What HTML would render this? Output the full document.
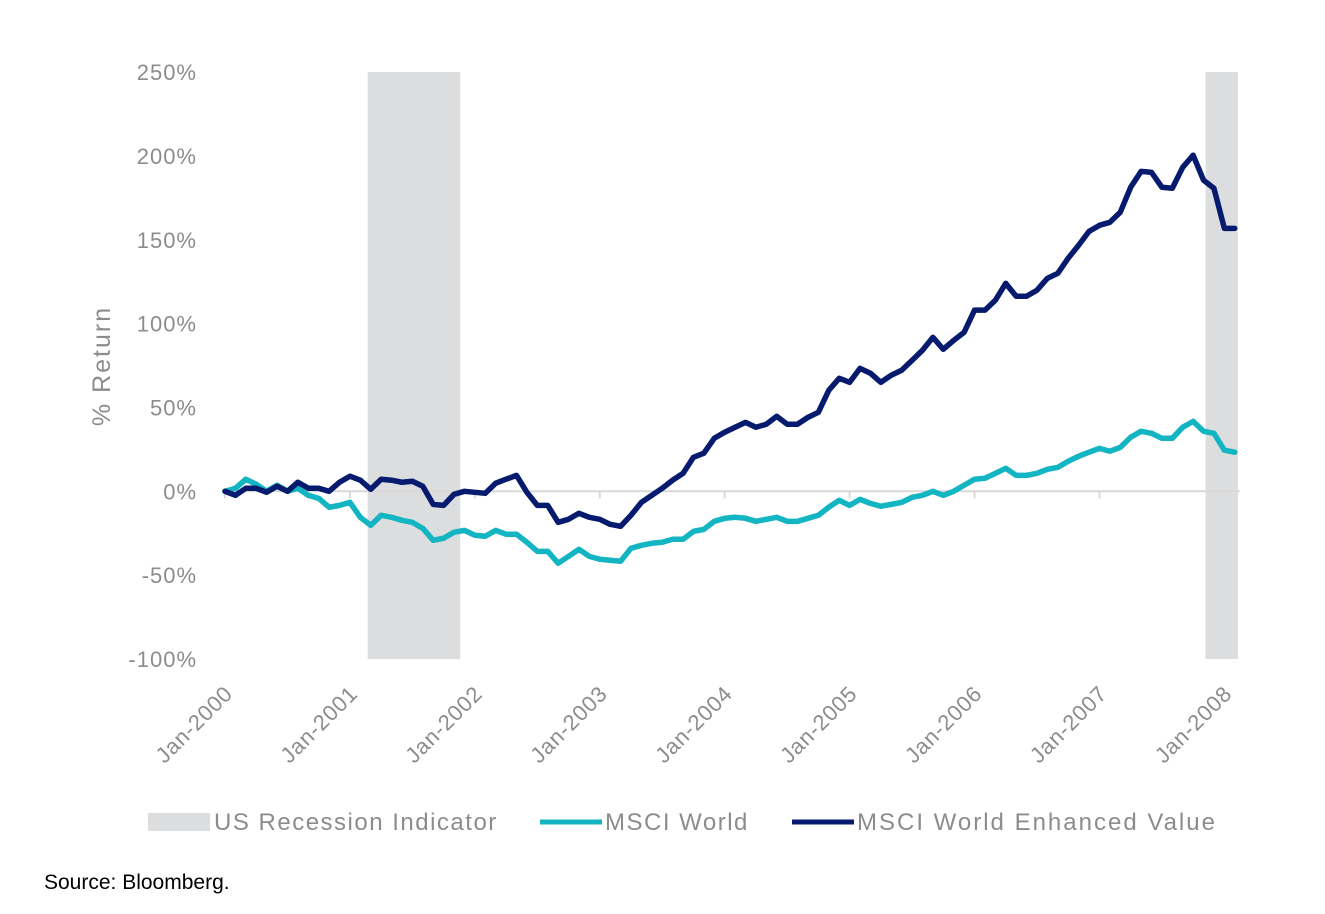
<!DOCTYPE html>
<html><head><meta charset="utf-8"><style>
body{margin:0;background:#fff;width:1325px;height:909px;overflow:hidden;font-family:"Liberation Sans",sans-serif}
svg text{font-family:"Liberation Sans",sans-serif}
</style></head><body>
<svg id="chart" width="1325" height="909" xmlns="http://www.w3.org/2000/svg"></svg>
<script>
const yTicks=[250,200,150,100,50,0,-50,-100];
const yearLabels=["Jan-2000","Jan-2001","Jan-2002","Jan-2003","Jan-2004","Jan-2005","Jan-2006","Jan-2007","Jan-2008"];
const recessions=[[13.7,22.6],[94.2,97.3]];
const msciWorld=[0,1.8,7.2,4.2,0,3.6,0,1.8,-2.4,-4.2,-9.5,-8.4,-6.6,-15.5,-20.3,-14.3,-15.5,-17.3,-18.5,-22.1,-29.2,-28,-24.4,-23.3,-26.2,-26.8,-23.3,-25.6,-25.6,-30.4,-35.8,-35.8,-42.9,-38.8,-34.6,-38.8,-40.5,-41.1,-41.7,-34,-32.2,-31,-30.4,-28.6,-28.6,-23.9,-22.7,-17.9,-16.1,-15.5,-16.1,-17.9,-16.7,-15.5,-17.9,-17.9,-16.1,-14.3,-9.5,-5.4,-8.4,-4.8,-7.2,-8.9,-7.8,-6.6,-3.6,-2.4,0,-2.4,0,3.6,7.2,7.8,10.7,13.7,9.5,9.5,10.7,13.1,14.3,17.9,20.9,23.3,25.6,23.9,26.2,32.2,35.8,34.6,31.6,31.6,38.2,41.7,35.8,34.6,24.5,23.3];
const msciEV=[0,-2.4,1.8,1.8,-0.6,3,0,5.4,1.8,1.8,0,5.4,9,6.6,1.2,7.2,6.6,5.4,6,3,-7.8,-8.4,-1.8,0,-0.6,-1.2,4.8,7.2,9.5,-0.6,-8.4,-8.4,-18.5,-16.7,-13.1,-15.5,-16.7,-19.7,-20.9,-14.3,-6.6,-2.4,1.8,6.6,10.7,20.3,22.7,31.6,35.2,38.2,41.1,38.2,40,44.7,40,40,44.1,47.1,60.2,67.4,65,73.3,70.4,65,69.2,72.2,78.1,84.1,91.8,84.7,90,94.8,108,108,113.9,124,116.3,116.3,119.9,127,130,139,146.7,155,158.6,160.4,166.4,181.3,190.8,190.2,181.3,180.7,193.2,200.4,185.5,180.7,156.8,156.8];

const NS="http://www.w3.org/2000/svg";
const svg=document.getElementById('chart');
const X=m=>225+m*10.41;
const Y=v=>491.3-v*1.677;
function mk(t,a,txt){const e=document.createElementNS(NS,t);for(const k in a)e.setAttribute(k,a[k]);if(txt!==undefined)e.textContent=txt;svg.appendChild(e);return e;}

recessions.forEach(r=>{
  const e=mk('rect',{x:X(r[0]),y:72,width:X(r[1])-X(r[0]),height:587,fill:'#dcdddf'});
  
  
});
let z=mk('line',{x1:225,x2:1240,y1:Y(0),y2:Y(0),stroke:'#d9d9d9','stroke-width':2});


yTicks.forEach(t=>{
  const e=mk('text',{x:197,y:Y(t)+8,'text-anchor':'end','font-size':22,'letter-spacing':1,fill:'#8c8c8c'},t+'%');
  
  
});
yearLabels.forEach((l,i)=>{
  const x=X(i*12);
  const tk=mk('line',{x1:x,x2:x,y1:Y(0),y2:Y(0)+7,stroke:'#d9d9d9','stroke-width':2});
  
  
  const e=mk('text',{x:x+9,y:695,'text-anchor':'end','font-size':22,'letter-spacing':0.8,fill:'#8c8c8c',transform:`rotate(-45 ${x+9} 695)`},l);
  
  
});
function line(d,c,n){
  const e=mk('polyline',{points:d.map((v,i)=>X(i)+','+Y(v)).join(' '),fill:'none',stroke:c,'stroke-width':5.5,'stroke-linejoin':'round','stroke-linecap':'round'});
  
  
}
line(msciWorld,'#12b5c1','msci-world-line');
line(msciEV,'#061a6e','msci-enhanced-value-line');
</script>
<svg style="position:absolute;left:0;top:0" width="1325" height="909">
<text x="110" y="366" transform="rotate(-90 110 366)" text-anchor="middle" font-size="25" letter-spacing="2" fill="#8c8c8c">% Return</text>
<rect x="148" y="813" width="62" height="18" fill="#dcdddf"/>
<text x="214" y="830" font-size="24" letter-spacing="1.5" fill="#8c8c8c">US Recession Indicator</text>
<line x1="540" x2="602" y1="822" y2="822" stroke="#12b5c1" stroke-width="5"/>
<text x="605" y="830" font-size="24" letter-spacing="1.5" fill="#8c8c8c">MSCI World</text>
<line x1="792" x2="854" y1="822" y2="822" stroke="#061a6e" stroke-width="5"/>
<text x="857" y="830" font-size="24" letter-spacing="2" fill="#8c8c8c">MSCI World Enhanced Value</text>
<text x="44" y="889" font-size="21" fill="#000">Source: Bloomberg.</text>
</svg>
</body></html>
